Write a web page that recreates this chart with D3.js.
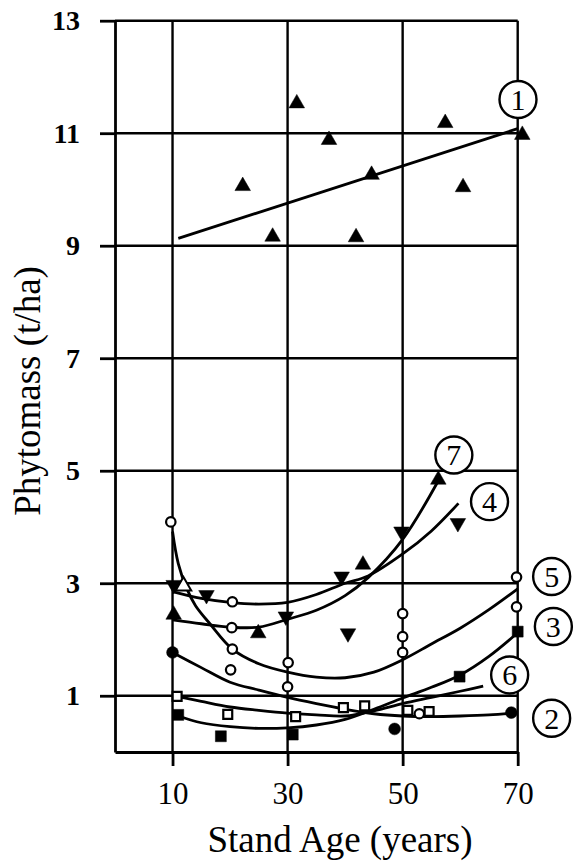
<!DOCTYPE html>
<html>
<head>
<meta charset="utf-8">
<script src="https://cdn.jsdelivr.net/npm/d3@7"></script>
<style>
  body { margin: 0; background: #fff; }
  svg { display: block; }
</style>
</head>
<body>
<div id="chart"></div>
<script>
// stand age ticks and phytomass ticks
const xTicks = [10, 30, 50, 70];
const yTicks = [1, 3, 5, 7, 9, 11, 13];

// 1 - filled triangles, linear trend
const s1Points = [[31.6, 11.53], [57.4, 11.18], [37.2, 10.88], [70.8, 10.97], [22.2, 10.06],
    [44.6, 10.26], [60.5, 10.04], [27.4, 9.16], [41.9, 9.15]];
const s1Line = [[11, 9.13], [70, 11.08]];

// 7 - filled triangles up
const s7Points = [[10.2, 2.44], [24.9, 2.11], [43.1, 3.33], [56.2, 4.84]];
const s7Curve = [[10, 2.35], [15, 2.28], [20, 2.22], [25, 2.22], [30, 2.36], [35, 2.52],
    [40, 2.78], [44, 3.1], [50, 3.78], [56.3, 4.84]];
const openTriangle = [[11.9, 2.95]];

// 4 - filled triangles down
const s4Points = [[10.2, 2.97], [15.9, 2.79], [29.7, 2.41], [39.4, 3.12], [40.5, 2.11],
    [49.8, 3.92], [59.6, 4.07]];
const s4Curve = [[10, 2.85], [15, 2.73], [20, 2.66], [25, 2.63], [30, 2.66], [35, 2.8],
    [40, 3.0], [44, 3.13], [50, 3.52], [55, 3.93], [59.7, 4.42]];

// 5 - open circles
const s5Points = [[9.7, 4.09], [20.4, 2.67], [20.3, 2.21], [20.4, 1.83], [20.1, 1.46],
    [30.1, 1.59], [30.0, 1.16], [50, 2.46], [50, 2.05], [50, 1.77], [69.8, 3.11], [69.8, 2.58],
    [52.9, 0.68]];
const s5Curve = [[10, 3.92], [11, 3.35], [12.5, 2.9], [14, 2.6], [16.5, 2.28], [20.4, 1.83],
    [25, 1.57], [30, 1.42], [35, 1.33], [40, 1.32], [45, 1.42], [50, 1.64], [55, 1.92],
    [60, 2.2], [65, 2.53], [70, 2.9]];

// 3 - filled squares
const s3Points = [[11, 0.66], [18.4, 0.28], [30.9, 0.31], [59.9, 1.34], [70, 2.14]];
const s3Curve = [[11, 0.64], [15, 0.52], [20, 0.45], [25, 0.42], [30, 0.43], [35, 0.48],
    [40, 0.58], [45, 0.76], [50, 0.96], [55, 1.15], [60, 1.37], [65, 1.7], [70, 2.12]];

// 6 - open squares
const s6Points = [[10.8, 0.99], [19.6, 0.67], [31.4, 0.63], [39.7, 0.79], [43.4, 0.82],
    [50.9, 0.74], [54.6, 0.72]];
const s6Curve = [[10.8, 0.99], [15, 0.9], [20, 0.8], [25, 0.74], [30, 0.69], [35, 0.66],
    [40, 0.64], [45, 0.73], [50, 0.86], [55, 0.97], [60, 1.08], [64, 1.17]];

// 2 - filled circles
const s2Points = [[10, 1.77], [48.6, 0.41], [68.9, 0.70]];
const s2Curve = [[10, 1.77], [15, 1.5], [20, 1.24], [25, 1.1], [30, 0.97], [35, 0.86],
    [40, 0.76], [45, 0.68], [50, 0.64], [55, 0.63], [60, 0.64], [65, 0.66], [70, 0.7]];

// circled curve numbers
const labelNames = ['1', '7', '4', '5', '3', '6', '2'];
const labelAt = [[70.05, 11.6], [58.9, 5.28], [65.1, 4.45], [75.9, 3.12], [76.2, 2.23],
    [68.6, 1.37], [75.9, 0.6]];

const width = 578, height = 867;
const serif = '"Times New Roman", Tinos, "Liberation Serif", "Noto Serif", "DejaVu Serif", Times, serif';

const svg = d3.select('#chart').append('svg').attr('width', width).attr('height', height);

const x = d3.scaleLinear().domain([0, 70]).range([115, 517.7]);
const y = d3.scaleLinear().domain([0, 13]).range([752, 20.7]);

// grid
svg.append('g').selectAll('line').data(yTicks).enter().append('line')
    .attr('x1', x(0)).attr('x2', x(70))
    .attr('y1', d => y(d)).attr('y2', d => y(d))
    .attr('stroke', '#000').attr('stroke-width', 2.4);
svg.append('g').selectAll('line').data(xTicks).enter().append('line')
    .attr('x1', d => x(d)).attr('x2', d => x(d))
    .attr('y1', y(13)).attr('y2', y(0))
    .attr('stroke', '#000').attr('stroke-width', 2.4);

// axes
let yAxis = svg.append('g').attr('transform', 'translate(' + x(0) + ',0)')
    .call(d3.axisLeft(y).tickValues(yTicks).tickSize(15).tickSizeOuter(0).tickPadding(20));
let xAxis = svg.append('g').attr('transform', 'translate(0,' + y(0) + ')')
    .call(d3.axisBottom(x).tickValues(xTicks).tickSize(14).tickSizeOuter(0).tickPadding(16));

yAxis.selectAll('path, line').attr('stroke', '#000').attr('stroke-width', 2.8);
xAxis.selectAll('path, line').attr('stroke', '#000').attr('stroke-width', 2.8);
yAxis.selectAll('text').attr('font-family', serif).attr('font-size', 28)
    .attr('font-weight', 'bold').attr('fill', '#000');
xAxis.selectAll('text').attr('font-family', serif).attr('font-size', 31).attr('fill', '#000');

svg.append('text').attr('x', 340).attr('y', 852).attr('text-anchor', 'middle')
    .attr('font-family', serif).attr('font-size', 37).text('Stand Age (years)');
svg.append('text').attr('transform', 'translate(40,391) rotate(-90)').attr('text-anchor', 'middle')
    .attr('font-family', serif).attr('font-size', 37).text('Phytomass (t/ha)');

// curves
const line = d3.line().x(d => x(d[0])).y(d => y(d[1])).curve(d3.curveCatmullRom.alpha(0.5));
[s1Line, s7Curve, s4Curve, s5Curve, s3Curve, s6Curve, s2Curve].forEach(function(c) {
    svg.append('path').attr('d', line(c)).attr('fill', 'none')
        .attr('stroke', '#000').attr('stroke-width', 2.8);
});

// markers
function markers(data, type, filled, size) {
    svg.append('g').selectAll('path').data(data).enter().append('path')
        .attr('d', d3.symbol().type(type).size(size))
        .attr('transform', d => 'translate(' + x(d[0]) + ',' + y(d[1]) + ')')
        .attr('fill', filled ? '#000' : '#fff')
        .attr('stroke', '#000').attr('stroke-width', filled ? 0.5 : 2.2);
}
function tri(data, filled, down) {
    svg.append('g').selectAll('path').data(data).enter().append('path')
        .attr('d', d3.symbol().type(d3.symbolTriangle).size(105))
        .attr('transform', d => 'translate(' + x(d[0]) + ',' + y(d[1]) + ')' + (down ? ' rotate(180)' : ''))
        .attr('fill', filled ? '#000' : '#fff')
        .attr('stroke', '#000').attr('stroke-width', filled ? 0.5 : 2);
}
tri(s1Points, true, false);
tri(s7Points, true, false);
tri(openTriangle, false, false);
tri(s4Points, true, true);
markers(s5Points, d3.symbolCircle, false, 70);
markers(s3Points, d3.symbolSquare, true, 120);
markers(s6Points, d3.symbolSquare, false, 80);
markers(s2Points, d3.symbolCircle, true, 110);

// circled labels
let lab = svg.append('g').selectAll('g').data(labelNames).enter().append('g')
    .attr('transform', (d, i) => 'translate(' + x(labelAt[i][0]) + ',' + y(labelAt[i][1]) + ')');
lab.append('circle').attr('r', 18.5).attr('fill', '#fff').attr('stroke', '#000').attr('stroke-width', 2.4);
lab.append('text').attr('text-anchor', 'middle').attr('dy', '0.35em')
    .attr('font-family', serif).attr('font-size', 30).text(d => d);
</script>
</body>
</html>
